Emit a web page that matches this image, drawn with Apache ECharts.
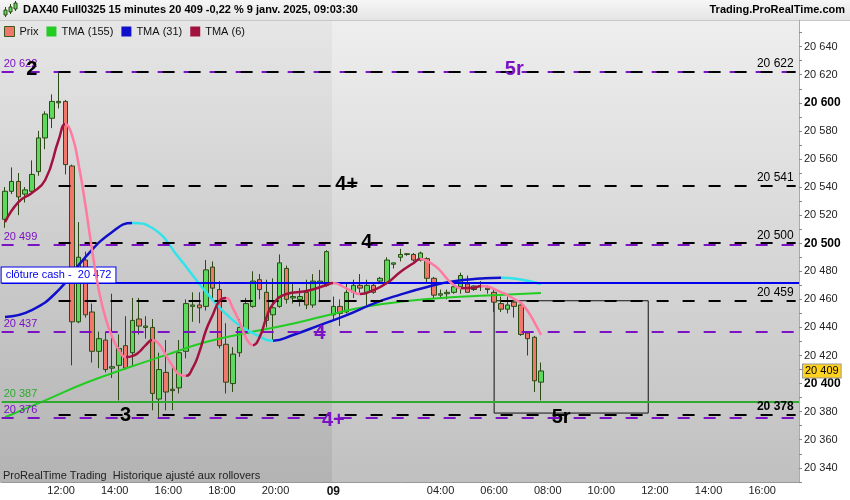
<!DOCTYPE html>
<html><head><meta charset="utf-8">
<script src="https://cdn.jsdelivr.net/npm/echarts@6/dist/echarts.min.js"></script>
<style>html,body{margin:0;padding:0;background:#fff}#c{width:850px;height:500px}</style>
</head><body><div id="c"></div>
<script>
// ---------- data ----------
const opens  = [20517,20537,20544,20535,20537,20551,20575,20589,20600,20601,20555,20444,20488,20451,20423,20431,20411,20413,20427,20422,20446,20440,20440,20389,20408,20396,20397,20423,20455,20456,20455,20483,20467,20428,20400,20422,20436,20455,20474,20465,20449,20455,20482,20461,20460,20465,20456,20472,20470,
                20449,20455,20451,20465,20470,20465,20470,20473,20472,20485,20490,20492,20492,20488,20489,20475,20463,20464,20465,20469,20471,20467,20469,20468,20465,20457,20453,20458,20456,20436,20433,20401];
const closes = [20537,20544,20533,20538,20549,20575,20592,20601,20601,20556,20444,20490,20449,20423,20432,20410,20412,20425,20411,20445,20441,20441,20393,20410,20394,20395,20422,20457,20456,20454,20481,20468,20427,20401,20421,20440,20457,20473,20467,20445,20454,20486,20460,20462,20462,20456,20473,20473,20494,
                20455,20450,20465,20470,20468,20470,20465,20475,20488,20486,20492,20492.5,20488,20493,20475,20463,20464,20465,20469,20477,20465,20469.5,20469.5,20467,20458,20453,20456,20455,20435,20432,20402,20409];
const lows   = [20511,20535,20520,20529,20536,20548,20567,20582,20596,20549,20413,20443,20447,20415,20411,20408,20404,20388,20410,20412,20435,20432,20381,20376,20381,20381,20393,20418,20444,20443,20452,20461,20425,20393,20394,20419,20435,20454,20460,20440,20431,20454,20457,20457,20455,20453,20454,20458,20469,
                20445,20441,20450,20461,20464,20456,20464,20471,20471,20482,20487,20491,20487,20487,20472,20461,20461,20460,20464,20464,20465,20466,20466,20464,20451,20451,20450,20447,20434,20420,20394,20388];
const highs  = [20540,20554,20550,20540,20559,20580,20594,20606,20622,20602,20556,20515,20494,20457,20437,20437,20464,20435,20448,20461,20461,20448,20446,20422,20431,20413,20431,20460,20465,20465,20488,20487,20473,20443,20426,20446,20461,20480,20478,20474,20475,20492,20484,20471,20468,20474,20478,20481,20495,
                20462,20460,20472,20474,20478,20474,20472,20476,20490,20486,20496,20493,20493,20494,20490,20476,20467,20467,20470,20479,20477,20470,20473,20470,20467,20462,20462,20460,20457,20437,20434,20415];

const tma155 = [['08 10:00',20376],['08 11:30',20388],['08 13:00',20400.4],['08 14:30',20410.7],['08 16:00',20420.3],['08 17:30',20429.6],['08 19:00',20436],['08 20:30',20441.7],['08 22:00',20448.5],['09 01:15',20454.9],['09 02:45',20458.8],['09 04:15',20461.3],['09 05:45',20462.7],['09 07:45',20464.5]];
const tma31 = [['08 10:00',20447.4],['08 11:00',20452.4],['08 12:00',20466.6],['08 13:00',20490.1],['08 14:00',20508],['08 14:45',20514.4],['08 15:30',20510.8],['08 16:30',20489.4],['08 17:30',20465.2],['08 18:30',20445.2],['08 19:30',20433.5],['08 20:00',20430.6],['08 20:45',20434.6],['08 21:45',20441.7],['09 00:30',20448.8],['09 01:30',20457],['09 02:30',20463.4],['09 03:30',20468.8],['09 04:30',20473],['09 05:30',20474.8],['09 06:15',20475.4],['09 07:00',20474.1],['09 07:45',20470.9]];
const tma6 = [['08 10:00',20515],['08 10:30',20529.3],['08 11:00',20535.8],['08 11:30',20545],['08 12:00',20573.5],['08 12:15',20584.9],['08 12:30',20577],['08 12:45',20555.7],['08 13:00',20527.2],['08 13:15',20495],['08 13:30',20466.6],['08 13:45',20446.7],['08 14:00',20433.1],['08 14:15',20424],['08 14:30',20418.9],['08 14:45',20419.6],['08 15:00',20422.4],['08 15:15',20427.4],['08 15:30',20431],['08 15:45',20428.1],['08 16:00',20420.3],['08 16:15',20412.5],['08 16:30',20406.5],['08 16:45',20405.5],['08 17:00',20411],['08 17:15',20422.4],['08 17:30',20438],['08 17:45',20448.8],['08 18:00',20458.8],['08 18:15',20460.9],['08 18:30',20453.8],['08 18:45',20443.8],['08 19:00',20432.4],['08 19:15',20427.4],['08 19:30',20433.1],['08 19:45',20446.7],['08 20:00',20456.7],['08 20:30',20463.8],['08 21:15',20465.9],['08 22:00',20470.2],['09 00:00',20471.6],['09 00:30',20467.7],['09 01:00',20463.8],['09 01:30',20466.6],['09 02:00',20471.6],['09 02:30',20479.5],['09 03:00',20485.9],['09 03:15',20488.7],['09 03:30',20487.3],['09 03:45',20484.4],['09 04:00',20480.2],['09 04:15',20474.5],['09 04:30',20470.2],['09 04:45',20468],['09 05:15',20468.3],['09 05:30',20469.5],['09 05:45',20469.1],['09 06:00',20467.3],['09 06:15',20465.2],['09 06:30',20463.1],['09 06:45',20460.2],['09 07:00',20457.4],['09 07:15',20451.7],['09 07:30',20443.8],['09 07:45',20434.6]];

const blackLevels = [20622, 20541, 20500, 20459, 20378];
const purpleLevels = [20622, 20499, 20437, 20376];
const greenLevel = 20387;
const cashClose = 20472;
const lastPrice = 20409;
const boxRange = [['09 06:00', 20459], ['09 11:45', 20379]];
const waveLabels = [
  ['2',  '08 11:00', 20624,   '#000'],
  ['5r', '09 06:45', 20623.5, '#7b12c4'],
  ['4+', '09 00:30', 20541.5, '#000'],
  ['4',  '09 01:15', 20500.8, '#000'],
  ['4',  '08 21:45', 20436,   '#7b12c4'],
  ['3',  '08 14:30', 20377,   '#000'],
  ['4+', '09 00:00', 20374,   '#7b12c4'],
  ['5r', '09 08:30', 20376,   '#000']
];
const yTickLabels = [20340,20360,20380,20400,20420,20440,20460,20480,20500,20520,20540,20560,20580,20600,20620,20640];
const yMinorTicks = [20330,20340,20350,20360,20370,20380,20390,20400,20410,20420,20430,20440,20450,20460,20470,20480,20490,20500,20510,20520,20530,20540,20550,20560,20570,20580,20590,20600,20610,20620,20630,20640,20650];
const xTickKeys  = ['08 12:00','08 14:00','08 16:00','08 18:00','08 20:00','09 00:00','09 04:00','09 06:00','09 08:00','09 10:00','09 12:00','09 14:00','09 16:00'];
const xTickTexts = ['12:00','14:00','16:00','18:00','20:00','09','04:00','06:00','08:00','10:00','12:00','14:00','16:00'];

// ---------- categories (15 min slots) ----------
function session(day, startMin, count) {
  const out = [];
  for (let i = 0; i < count; i++) {
    const m = startMin + 15 * i;
    out.push(day + ' ' + String(Math.floor(m / 60)).padStart(2, '0') + ':' + String(m % 60).padStart(2, '0'));
  }
  return out;
}
const categories = session('08', 600, 49).concat(session('09', 0, 70));

const fmt = v => { const s = String(Math.round(v)); return s.slice(0, s.length - 3) + ' ' + s.slice(-3); };
const PURPLE = '#7b12c4', GREEN = '#2faa2f', BLUE = '#0000ee';

function slopePieces(points, upColor, downColor) {
  const idx = points.map(p => [categories.indexOf(p[0]), p[1]]);
  const pieces = [];
  for (let j = 0; j < idx.length - 1; j++) {
    const color = idx[j + 1][1] >= idx[j][1] ? upColor : downColor;
    const last = pieces[pieces.length - 1];
    if (last && last.color === color) last.lt = idx[j + 1][0];
    else pieces.push({ gte: idx[j][0], lt: idx[j + 1][0], color });
  }
  pieces[0].gte = -1000;
  pieces[pieces.length - 1].lt = 1000;
  return pieces;
}
const toIdx = pts => pts.map(p => [categories.indexOf(p[0]), p[1]]);

const chart = echarts.init(document.getElementById('c'), null, { renderer: 'canvas' });
const startKey = '08 12:00', endKey = categories[categories.length - 1];

const option = {
  animation: false,
  backgroundColor: '#ffffff',
  textStyle: { fontFamily: 'Liberation Sans, Arial, sans-serif' },
  grid: { left: 1.65, right: 51, top: 20, bottom: 17.3, containLabel: false },
  legend: {
    left: 4, top: 26, padding: 0, itemWidth: 10, itemHeight: 10, itemGap: 8, icon: 'rect',
    textStyle: { fontSize: 11, color: '#111' },
    data: [
      { name: 'Prix', itemStyle: { color: '#f0776b', borderColor: '#3a5a1a', borderWidth: 1 } },
      { name: 'TMA (155)', itemStyle: { color: '#22cc22' } },
      { name: 'TMA (31)', itemStyle: { color: '#1010cc' } },
      { name: 'TMA (6)', itemStyle: { color: '#a3123f' } }
    ]
  },
  xAxis: {
    type: 'category', data: categories, boundaryGap: true,
    axisLine: { lineStyle: { color: '#999' } },
    axisTick: { show: false },
    splitLine: { show: false },
    axisLabel: {
      margin: 3, fontSize: 11, color: '#222',
      interval: (i, v) => xTickKeys.indexOf(v) >= 0,
      formatter: (v) => {
        const k = xTickKeys.indexOf(v);
        if (k < 0) return '';
        const t = xTickTexts[k];
        if (t === '09') return '{b|09}';
        return v.startsWith('08') ? '{d|' + t + '}' : t;
      },
      rich: { b: { fontWeight: 'bold', fontSize: 12, color: '#111' }, d: { padding: [0, 0, 0, 5], fontSize: 11, color: '#222' } }
    }
  },
  yAxis: {
    type: 'value', position: 'right', min: 20329.4, max: 20659, scale: true,
    axisLine: { show: true, lineStyle: { color: '#aaa' } },
    axisTick: { show: true, length: 3, lineStyle: { color: '#888' }, customValues: yMinorTicks },
    splitLine: { show: false },
    axisLabel: {
      margin: 5, fontSize: 11, color: '#222', customValues: yTickLabels,
      formatter: v => (v % 100 === 0 ? '{b|' + fmt(v) + '}' : fmt(v)),
      rich: { b: { fontWeight: 'bold', fontSize: 12, color: '#000' } }
    }
  },
  visualMap: [
    { type: 'piecewise', show: false, seriesIndex: 2, dimension: 0, pieces: slopePieces(tma31, '#1010cc', '#33e3ea') },
    { type: 'piecewise', show: false, seriesIndex: 3, dimension: 0, pieces: slopePieces(tma6, '#a3123f', '#ff7aa0') }
  ],
  graphic: [
    { type: 'rect', z: -10, silent: true, shape: { x: 0, y: 20, width: 332, height: 462.7 },
      style: { fill: new echarts.graphic.LinearGradient(0, 0, 0, 1, [{ offset: 0, color: '#e6e6e6' }, { offset: 1, color: '#b3b3b3' }]) } },
    { type: 'rect', z: -10, silent: true, shape: { x: 332, y: 20, width: 467, height: 462.7 },
      style: { fill: new echarts.graphic.LinearGradient(0, 0, 0, 1, [{ offset: 0, color: '#eeeeee' }, { offset: 1, color: '#c0c0c0' }]) } },
    { type: 'rect', z: -10, silent: true, shape: { x: 0, y: 0, width: 850, height: 20 },
      style: { fill: new echarts.graphic.LinearGradient(0, 0, 0, 1, [{ offset: 0, color: '#f6f6f6' }, { offset: 1, color: '#e4e4e4' }]) } },
    { type: 'line', silent: true, shape: { x1: 0, y1: 20.5, x2: 850, y2: 20.5 }, style: { stroke: '#c8c8c8', lineWidth: 1 } },
    { type: 'line', silent: true, shape: { x1: 5.5, y1: 7, x2: 5.5, y2: 17 }, style: { stroke: '#2b4a14', lineWidth: 1 } },
    { type: 'rect', silent: true, shape: { x: 4, y: 10, width: 3, height: 5 }, style: { fill: '#5ed85e', stroke: '#2b4a14', lineWidth: 1 } },
    { type: 'line', silent: true, shape: { x1: 10.5, y1: 4, x2: 10.5, y2: 14 }, style: { stroke: '#2b4a14', lineWidth: 1 } },
    { type: 'rect', silent: true, shape: { x: 9, y: 7, width: 3, height: 5 }, style: { fill: '#5ed85e', stroke: '#2b4a14', lineWidth: 1 } },
    { type: 'line', silent: true, shape: { x1: 15.5, y1: 1, x2: 15.5, y2: 11 }, style: { stroke: '#2b4a14', lineWidth: 1 } },
    { type: 'rect', silent: true, shape: { x: 14, y: 3, width: 3, height: 6 }, style: { fill: '#5ed85e', stroke: '#2b4a14', lineWidth: 1 } },
    { type: 'text', silent: true, x: 23, y: 10, style: { text: 'DAX40 Full0325 15 minutes 20 409 -0,22 % 9 janv. 2025, 09:03:30', font: 'bold 11px "Liberation Sans", Arial, sans-serif', fill: '#000', verticalAlign: 'middle' } },
    { type: 'text', silent: true, x: 845, y: 10, style: { text: 'Trading.ProRealTime.com', font: 'bold 11px "Liberation Sans", Arial, sans-serif', fill: '#000', align: 'right', verticalAlign: 'middle' } },
    { type: 'text', silent: true, x: 3, y: 476, style: { text: 'ProRealTime Trading  Historique ajusté aux rollovers', font: '11px "Liberation Sans", Arial, sans-serif', fill: '#222', verticalAlign: 'middle' } }
  ],
  series: [
    {
      name: 'Prix', type: 'candlestick', barWidth: 5, z: 2,
      data: opens.map((o, i) => [o, closes[i], lows[i], highs[i]]),
      itemStyle: { color: '#5ed85e', color0: '#f0776b', borderColor: '#2b4a14', borderColor0: '#2b4a14', borderWidth: 1 },
      markArea: {
        silent: true,
        itemStyle: { color: 'rgba(0,0,0,0)', borderColor: '#111', borderWidth: 1 },
        data: [[{ coord: boxRange[0] }, { coord: boxRange[1] }]]
      },
      markPoint: {
        silent: true, symbol: 'circle', symbolSize: 1, itemStyle: { color: 'rgba(0,0,0,0)' },
        label: { show: true, position: 'inside', fontSize: 20, fontWeight: 'bold' },
        data: waveLabels.map(w => ({ coord: [w[1], w[2]], label: { formatter: w[0], color: w[3] } }))
      },
      markLine: {
        silent: true, symbol: 'none', lineStyle: { color: 'rgba(0,0,0,0)', width: 0 },
        label: { show: true, position: 'end', distance: 4, formatter: () => fmt(lastPrice), color: '#000', fontSize: 11,
                 backgroundColor: '#ffd21f', borderColor: '#999', borderWidth: 1, padding: [1, 2] },
        data: [{ yAxis: lastPrice }]
      }
    },
    {
      name: 'TMA (155)', type: 'line', data: tma155, smooth: true, connectNulls: true, showSymbol: false, z: 3,
      lineStyle: { color: '#22cc22', width: 2 }, itemStyle: { color: '#22cc22' },
      markLine: {
        silent: true, symbol: 'none',
        lineStyle: { color: PURPLE, width: 2, type: [12, 14] },
        label: { show: true, position: 'insideStartTop', distance: 2, color: PURPLE, fontSize: 11, formatter: p => fmt(p.value) },
        data: purpleLevels.map(v => ({ yAxis: v })).concat([
          { yAxis: greenLevel, lineStyle: { color: GREEN, type: 'solid', width: 2 }, label: { color: GREEN } },
          { yAxis: cashClose, lineStyle: { color: BLUE, type: 'solid', width: 2 },
            label: { color: BLUE, distance: 0, backgroundColor: '#fff', borderColor: BLUE, borderWidth: 1, padding: [2, 4, 2, 4],
                     formatter: 'clôture cash -  ' + fmt(cashClose) } }
        ])
      }
    },
    {
      name: 'TMA (31)', type: 'line', data: toIdx(tma31), smooth: true, showSymbol: false, z: 4,
      lineStyle: { width: 2.5 },
      markLine: {
        silent: true, symbol: 'none',
        lineStyle: { color: '#000', width: 2, type: [12, 14] },
        label: { show: true, position: 'insideEndTop', distance: 2, color: '#000', fontSize: 12 },
        data: blackLevels.map(v => [
          { coord: [startKey, v], label: { formatter: fmt(v), fontWeight: v === 20378 ? 'bold' : 'normal' } },
          { coord: [endKey, v] }
        ])
      }
    },
    {
      name: 'TMA (6)', type: 'line', data: toIdx(tma6), smooth: true, showSymbol: false, z: 5,
      lineStyle: { width: 2.5 }
    }
  ]
};
chart.setOption(option);
</script>
</body></html>
